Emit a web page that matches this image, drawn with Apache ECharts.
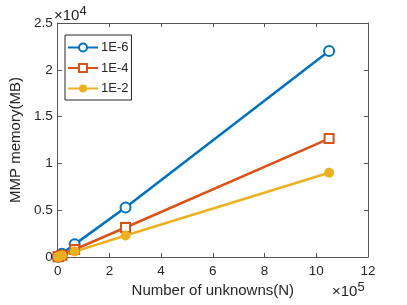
<!DOCTYPE html>
<html><head><meta charset="utf-8">
<script src="https://cdn.jsdelivr.net/npm/echarts@6/dist/echarts.min.js"></script>
<style>html,body{margin:0;padding:0;background:#fff}#c{width:407px;height:305px}</style>
</head><body><div id="c"></div>
<script>
var unknowns = [1024, 4100, 16400, 65600, 262400, 1049600];
var mem1e6 = [25, 90, 340, 1350, 5300, 22000];
var mem1e4 = [15, 55, 200, 800, 3150, 12650];
var mem1e2 = [12, 40, 150, 580, 2300, 9000];
var seriesNames = ['1E-6', '1E-4', '1E-2'];
var xTicks = ['0', '2', '4', '6', '8', '10', '12'];
var yTicks = ['0', '0.5', '1', '1.5', '2', '2.5'];

function pairs(ys) { return unknowns.map(function (x, i) { return [x, ys[i]]; }); }
var font = 'Liberation Sans, Arial, Helvetica, sans-serif';
var axColor = '#555';
var txtColor = '#262626';
var chart = echarts.init(document.getElementById('c'), null, {renderer: 'canvas'});
chart.setOption({
  animation: false,
  grid: {left: 53, right: 39, top: 23, bottom: 48},
  xAxis: [{
    type: 'value', min: 0, max: 1200000, interval: 200000, position: 'bottom',
    name: 'Number of unknowns(N)', nameLocation: 'middle', nameGap: 25,
    nameTextStyle: {fontFamily: font, fontSize: 15, color: txtColor},
    axisLine: {show: true, onZero: false, lineStyle: {color: axColor, width: 1}},
    axisTick: {show: true, inside: true, length: 4, lineStyle: {color: axColor}},
    axisLabel: {fontFamily: font, fontSize: 13.5, color: txtColor, margin: 7,
      formatter: function (v) { return xTicks[Math.round(v / 200000)]; }},
    splitLine: {show: false}
  }, {
    type: 'value', min: 0, max: 1200000, interval: 200000, position: 'top',
    axisLine: {show: true, onZero: false, lineStyle: {color: axColor, width: 1}},
    axisTick: {show: true, inside: true, length: 4, lineStyle: {color: axColor}},
    axisLabel: {show: false}, splitLine: {show: false}
  }],
  yAxis: [{
    type: 'value', min: 0, max: 25000, interval: 5000, position: 'left',
    name: 'MMP memory(MB)', nameLocation: 'middle', nameGap: 30, nameRotate: 90,
    nameTextStyle: {fontFamily: font, fontSize: 15, color: txtColor},
    axisLine: {show: true, onZero: false, lineStyle: {color: axColor, width: 1}},
    axisTick: {show: true, inside: true, length: 4, lineStyle: {color: axColor}},
    axisLabel: {fontFamily: font, fontSize: 13.5, color: txtColor, margin: 5,
      formatter: function (v) { return yTicks[Math.round(v / 5000)]; }},
    splitLine: {show: false}
  }, {
    type: 'value', min: 0, max: 25000, interval: 5000, position: 'right',
    axisLine: {show: true, onZero: false, lineStyle: {color: axColor, width: 1}},
    axisTick: {show: true, inside: true, length: 4, lineStyle: {color: axColor}},
    axisLabel: {show: false}, splitLine: {show: false}
  }],
  legend: {
    orient: 'vertical', left: 65, top: 35, itemWidth: 30, itemHeight: 10, itemGap: 7.5,
    padding: [6, 3, 5, 2],
    borderColor: '#262626', borderWidth: 1, backgroundColor: '#fff',
    textStyle: {fontFamily: font, fontSize: 13, color: txtColor, padding: [0, 0, 0, -2]},
    data: seriesNames
  },
  series: [{
    name: seriesNames[0], type: 'line', data: pairs(mem1e6),
    symbol: 'emptyCircle', symbolSize: 10,
    lineStyle: {color: '#0072BD', width: 2.5},
    itemStyle: {color: '#0072BD', borderColor: '#0072BD', borderWidth: 2.5}
  }, {
    name: seriesNames[1], type: 'line', data: pairs(mem1e4),
    symbol: 'emptyRect', symbolSize: 9,
    lineStyle: {color: '#D95319', width: 2.5},
    itemStyle: {color: '#D95319', borderColor: '#D95319', borderWidth: 3.3}
  }, {
    name: seriesNames[2], type: 'line', data: pairs(mem1e2),
    symbol: 'circle', symbolSize: 10,
    lineStyle: {color: '#EDB120', width: 2.5},
    itemStyle: {color: '#EDB120'}
  }],
  graphic: [{
    type: 'text', left: 54, top: 5,
    style: {
      text: '×10{s|4}', fontFamily: font, fontSize: 15, fill: txtColor,
      rich: {s: {fontSize: 13, fontFamily: font, fill: txtColor, verticalAlign: 'top', padding: [0, 0, 9, 0]}}
    }
  }, {
    type: 'text', left: 332, top: 281,
    style: {
      text: '×10{s|5}', fontFamily: font, fontSize: 15, fill: txtColor,
      rich: {s: {fontSize: 13, fontFamily: font, fill: txtColor, verticalAlign: 'top', padding: [0, 0, 9, 0]}}
    }
  }]
});
</script></body></html>
